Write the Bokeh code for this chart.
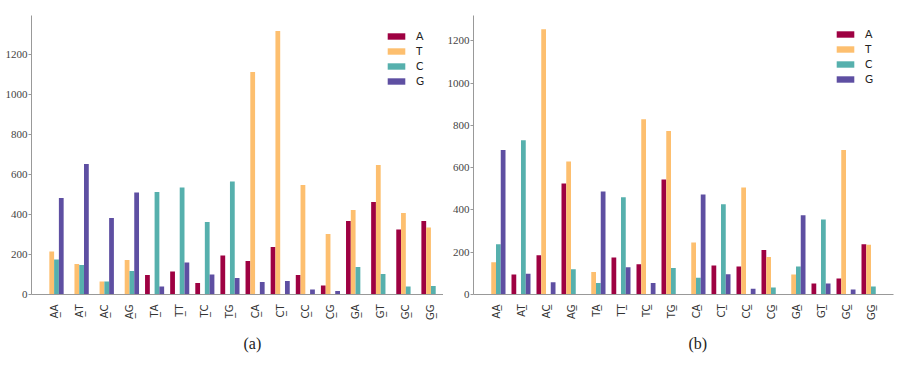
import math
from bokeh.plotting import figure
from bokeh.layouts import row
from bokeh.models import ColumnDataSource, FixedTicker, Title, Range1d
from bokeh.transform import dodge
from bokeh.embed import file_html
from bokeh.resources import INLINE

U = "\u0332"
pairs = ["AA", "AT", "AC", "AG", "TA", "TT", "TC", "TG",
         "CA", "CT", "CC", "CG", "GA", "GT", "GC", "GG"]
labels_a = [p[0] + U + p[1] for p in pairs]
labels_b = [p[0] + p[1] + U for p in pairs]

nucs = ["A", "T", "C", "G"]
colors = ["#9e0142", "#fdbf6f", "#56b0ad", "#5e4fa2"]

# panel (a)
a_A = [0, 0, 0, 0, 98, 115, 58, 195, 167, 237, 98, 45, 368, 463, 325, 368]
a_T = [215, 152, 65, 172, 0, 0, 0, 0, 1113, 1317, 548, 303, 423, 647, 408, 335]
a_C = [175, 147, 65, 117, 513, 535, 363, 565, 0, 0, 0, 0, 137, 102, 40, 42]
a_G = [482, 652, 382, 510, 40, 160, 100, 82, 62, 67, 25, 17, 0, 0, 0, 0]

# panel (b)
b_A = [0, 95, 186, 525, 0, 175, 143, 544, 0, 137, 132, 211, 0, 52, 76, 238]
b_T = [153, 0, 1255, 629, 106, 0, 829, 774, 246, 0, 506, 177, 95, 0, 684, 235]
b_C = [238, 730, 0, 120, 54, 460, 0, 125, 79, 427, 0, 33, 132, 355, 0, 38]
b_G = [684, 98, 58, 0, 487, 129, 54, 0, 473, 96, 27, 0, 375, 52, 24, 0]

yticks = [0, 200, 400, 600, 800, 1000, 1200]


def make(series, labels, ymax, xmax, caption, cap_off, fw, fh, bl, br, bt, bb, leg_loc):
    x = list(range(len(labels)))
    data = {"x": x}
    for n, s in zip(nucs, series):
        data[n] = s
    src = ColumnDataSource(data)
    p = figure(frame_width=fw, frame_height=fh, output_backend="svg", toolbar_location=None,
               x_range=Range1d(-0.9, xmax), y_range=Range1d(0, ymax),
               min_border_left=bl, min_border_right=br,
               min_border_top=bt, min_border_bottom=bb)
    offs = [-0.285, -0.095, 0.095, 0.285]
    for n, c, o in zip(nucs, colors, offs):
        p.vbar(x=dodge("x", o), top=n, width=0.19, source=src, color=c,
               line_color=None, legend_label=n)
    p.xgrid.visible = False
    p.ygrid.visible = False
    p.outline_line_color = None
    p.background_fill_color = "white"
    p.border_fill_color = "white"

    p.xaxis.ticker = FixedTicker(ticks=x)
    p.xaxis.major_label_overrides = {i: l for i, l in enumerate(labels)}
    p.xaxis.major_label_orientation = math.pi / 2
    p.xaxis.major_tick_line_color = None
    p.xaxis.minor_tick_line_color = None
    p.xaxis.major_label_text_font = "DejaVu Sans"
    p.xaxis.major_label_text_font_size = "10px"
    p.xaxis.major_label_text_color = "#333333"
    p.xaxis.major_label_standoff = 4
    p.xaxis.axis_line_color = "#999999"

    p.yaxis.ticker = FixedTicker(ticks=yticks)
    p.yaxis.minor_tick_line_color = None
    p.yaxis.major_tick_out = 3
    p.yaxis.major_tick_in = 0
    p.yaxis.major_tick_line_color = "#999999"
    p.yaxis.major_label_standoff = 1
    p.yaxis.major_label_text_font = "Liberation Serif"
    p.yaxis.major_label_text_font_size = "11px"
    p.yaxis.major_label_text_color = "#444444"
    p.yaxis.axis_line_color = "#999999"

    lg = p.legend[0]
    lg.location = leg_loc
    lg.border_line_color = None
    lg.background_fill_alpha = 0
    lg.padding = 0
    lg.margin = 0
    lg.glyph_width = 22
    lg.glyph_height = 8
    lg.label_height = 11
    lg.spacing = 2
    lg.label_standoff = 9
    lg.label_text_font = "Lato"
    lg.label_text_font_size = "11px"
    lg.label_text_color = "#222222"

    p.add_layout(Title(text=caption, align="left", offset=cap_off, standoff=20,
                       text_font="Liberation Serif", text_font_size="16px",
                       text_font_style="normal", text_color="#222222"), "below")
    return p


pa = make([a_A, a_T, a_C, a_G], labels_a, 1395, 15.5, "(a)", 212, 412, 279,
          31, 0, 13, 58, (354, 207))
pb = make([b_A, b_T, b_C, b_G], labels_b, 1320, 15.9, "(b)", 215, 420, 279,
          30, 5, 15, 56, (361, 209))

layout = row(pa, pb)
open("out.html", "w").write(file_html(layout, INLINE))
